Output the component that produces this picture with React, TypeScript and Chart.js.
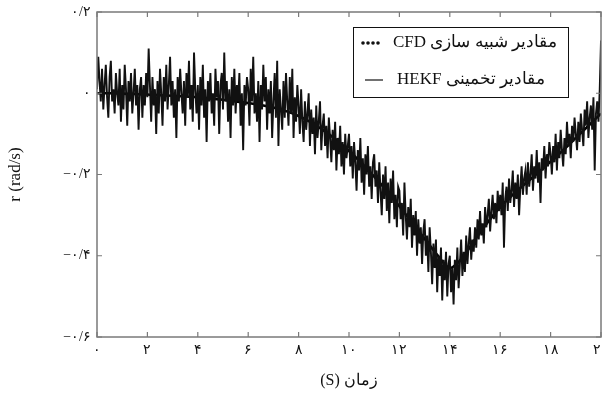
import React, { useEffect, useRef } from "react";
import { Chart, registerables } from "chart.js";

Chart.register(...registerables);

// Sampling step of the CFD record (s)
const CFD_DT = 0.05;

// CFD simulation values r (rad/s), one per 0.05 s from 0 to 20 s (one row per second)
const CFD_VALUES = [
  0.01, 0.09, 0.03, -0.02, 0.06, -0.04, 0.02, 0.07, -0.01, -0.06, 0.04, 0.08, -0.02, 0.01, -0.05, 0.05, 0.00, -0.03, 0.06, -0.07,
  0.02, -0.04, 0.07, 0.01, -0.08, 0.03, -0.02, 0.05, -0.05, 0.00, 0.06, -0.03, 0.02, -0.09, 0.01, 0.04, -0.06, 0.02, -0.03, 0.05,
  -0.01, 0.11, 0.02, -0.07, 0.04, -0.03, 0.01, -0.10, 0.03, -0.05, 0.06, 0.00, -0.08, 0.04, -0.02, 0.07, -0.04, 0.02, 0.09, -0.03,
  0.03, -0.06, 0.01, -0.11, 0.04, -0.02, 0.06, 0.00, -0.05, 0.03, -0.08, 0.05, -0.01, 0.08, -0.04, 0.02, -0.07, 0.10, 0.01, -0.05,
  0.02, -0.09, 0.04, -0.03, 0.07, -0.06, 0.01, -0.12, 0.03, -0.02, 0.05, -0.05, 0.00, -0.08, 0.06, -0.01, 0.03, -0.10, 0.02, 0.05,
  -0.04, 0.10, -0.02, 0.03, -0.07, 0.01, -0.11, 0.04, -0.03, 0.06, -0.05, 0.02, -0.02, 0.05, -0.08, 0.00, -0.14, 0.02, -0.03, 0.04,
  0.01, -0.08, 0.06, -0.02, 0.09, -0.05, 0.00, -0.07, 0.03, -0.12, 0.02, -0.04, 0.07, -0.02, 0.04, -0.09, 0.01, -0.05, 0.03, -0.11,
  -0.02, 0.05, -0.06, 0.08, -0.13, 0.01, -0.04, -0.09, 0.03, -0.06, 0.05, -0.02, -0.08, 0.04, -0.05, 0.06, -0.11, -0.01, -0.07, 0.02,
  -0.03, -0.10, 0.01, -0.07, -0.12, -0.02, -0.09, -0.05, 0.00, -0.13, -0.04, -0.10, -0.06, -0.15, -0.03, -0.11, -0.07, -0.02, -0.14, -0.08,
  -0.05, -0.13, -0.08, -0.16, -0.06, -0.11, -0.17, -0.09, -0.14, -0.07, -0.19, -0.11, -0.15, -0.08, -0.18, -0.12, -0.20, -0.10, -0.16, -0.13,
  -0.10, -0.18, -0.13, -0.21, -0.12, -0.17, -0.24, -0.14, -0.19, -0.11, -0.22, -0.16, -0.25, -0.15, -0.20, -0.13, -0.23, -0.18, -0.26, -0.17,
  -0.15, -0.23, -0.19, -0.27, -0.17, -0.24, -0.30, -0.20, -0.26, -0.18, -0.29, -0.22, -0.32, -0.21, -0.27, -0.19, -0.31, -0.25, -0.33, -0.23,
  -0.24, -0.31, -0.27, -0.35, -0.22, -0.30, -0.36, -0.28, -0.33, -0.26, -0.38, -0.30, -0.35, -0.29, -0.40, -0.31, -0.37, -0.33, -0.42, -0.34,
  -0.31, -0.40, -0.35, -0.44, -0.33, -0.39, -0.47, -0.37, -0.43, -0.36, -0.49, -0.40, -0.45, -0.38, -0.51, -0.41, -0.46, -0.39, -0.50, -0.42,
  -0.40, -0.49, -0.43, -0.52, -0.41, -0.46, -0.38, -0.48, -0.42, -0.36, -0.45, -0.39, -0.44, -0.35, -0.42, -0.37, -0.33, -0.41, -0.36, -0.39,
  -0.33, -0.38, -0.31, -0.36, -0.29, -0.35, -0.32, -0.37, -0.28, -0.33, -0.30, -0.26, -0.34, -0.29, -0.25, -0.31, -0.27, -0.32, -0.24, -0.29,
  -0.25, -0.30, -0.22, -0.38, -0.26, -0.23, -0.29, -0.21, -0.27, -0.24, -0.19, -0.28, -0.22, -0.26, -0.20, -0.30, -0.23, -0.18, -0.25, -0.21,
  -0.19, -0.25, -0.17, -0.23, -0.20, -0.15, -0.24, -0.18, -0.21, -0.14, -0.22, -0.17, -0.27, -0.16, -0.19, -0.13, -0.21, -0.15, -0.18, -0.12,
  -0.15, -0.20, -0.13, -0.17, -0.10, -0.19, -0.12, -0.16, -0.09, -0.14, -0.18, -0.11, -0.15, -0.07, -0.13, -0.10, -0.16, -0.08, -0.12, -0.06,
  -0.10, -0.14, -0.07, -0.12, -0.05, -0.09, -0.13, -0.04, -0.08, -0.02, -0.11, -0.06, -0.03, -0.09, -0.01, -0.19, -0.05, -0.02, -0.07, 0.01,
  0.13,
];

// HEKF estimate
const HEKF_TIMES = [
  0, 0.5, 1, 1.5, 2, 2.5, 3, 3.5, 4, 4.5, 5, 5.5, 6, 6.5, 7, 7.5, 8, 8.5, 9, 9.5,
  10, 10.5, 11, 11.5, 12, 12.5, 13, 13.5, 14, 14.5, 15, 15.5, 16, 16.5, 17, 17.5,
  18, 18.5, 19, 19.5, 20,
];
const HEKF_VALUES = [
  0, 0, -0.001, -0.002, -0.003, -0.005, -0.006, -0.008, -0.01, -0.013, -0.016,
  -0.02, -0.024, -0.029, -0.035, -0.044, -0.056, -0.072, -0.092, -0.115, -0.142,
  -0.172, -0.205, -0.24, -0.278, -0.318, -0.358, -0.398, -0.43, -0.405, -0.36,
  -0.318, -0.28, -0.25, -0.222, -0.196, -0.168, -0.14, -0.11, -0.08, -0.05,
];

const LABEL_CFD = "مقادیر شبیه سازی CFD";
const LABEL_HEKF = "مقادیر تخمینی HEKF";
const X_TITLE = "(S) زمان";
const Y_TITLE = "r (rad/s)";

const X_MIN = 0;
const X_MAX = 20;
const X_STEP = 2;
const Y_MIN = -0.6;
const Y_MAX = 0.2;
const Y_STEP = 0.2;

const FONT = "'Liberation Serif', 'DejaVu Serif', serif";
const FA_DIGITS = "۰۱۲۳۴۵۶۷۸۹";

function toFa(v: number): string {
  const r = Math.round(v * 10) / 10;
  const neg = r < 0;
  let s = Math.abs(r).toString().replace(".", "/");
  s = s.replace(/[0-9]/g, (d) => FA_DIGITS[Number(d)]);
  return (neg ? "−" : "") + s;
}

const framePlugin = {
  id: "frameAndLegend",
  afterDatasetsDraw(chart: any) {
    const { ctx, chartArea, scales } = chart;
    const { left, right, top, bottom } = chartArea;
    const xs = scales.x;
    const ys = scales.y;
    ctx.save();
    ctx.strokeStyle = "#7a7a7a";
    ctx.lineWidth = 1.5;
    ctx.strokeRect(left, top, right - left, bottom - top);
    ctx.lineWidth = 1.2;
    ctx.beginPath();
    xs.ticks.forEach((t: any) => {
      const px = xs.getPixelForValue(t.value);
      ctx.moveTo(px, bottom);
      ctx.lineTo(px, bottom - 5);
      ctx.moveTo(px, top);
      ctx.lineTo(px, top + 5);
    });
    ys.ticks.forEach((t: any) => {
      const py = ys.getPixelForValue(t.value);
      ctx.moveTo(left, py);
      ctx.lineTo(left + 5, py);
      ctx.moveTo(right, py);
      ctx.lineTo(right - 5, py);
    });
    ctx.stroke();

    // legend box
    const bx = right - 248;
    const by = top + 15;
    const bw = 215;
    const bh = 70;
    ctx.fillStyle = "#ffffff";
    ctx.fillRect(bx, by, bw, bh);
    ctx.strokeStyle = "#111";
    ctx.lineWidth = 1;
    ctx.strokeRect(bx + 0.5, by + 0.5, bw, bh);

    const ds = chart.data.datasets;
    const row1 = by + 16;
    const row2 = by + 53;
    ctx.fillStyle = "#111";
    for (let i = 0; i < 4; i++) {
      ctx.beginPath();
      ctx.arc(bx + 10 + i * 5, row1, 1.8, 0, Math.PI * 2);
      ctx.fill();
    }
    ctx.beginPath();
    ctx.moveTo(bx + 12, row2);
    ctx.lineTo(bx + 30, row2);
    ctx.lineWidth = 1.2;
    ctx.stroke();

    ctx.font = `17px ${FONT}`;
    ctx.fillStyle = "#111";
    ctx.textBaseline = "middle";
    ctx.textAlign = "left";
    (ctx as any).direction = "rtl";
    ctx.fillText(ds[0].label, bx + 40, row1);
    ctx.fillText(ds[1].label, bx + 44, row2);
    ctx.restore();
  },
};

export default function App() {
  const ref = useRef<HTMLCanvasElement | null>(null);

  useEffect(() => {
    if (!ref.current) return;
    const cfdPoints = CFD_VALUES.map((v, i) => ({ x: i * CFD_DT, y: v }));
    const hekfPoints = HEKF_TIMES.map((t, i) => ({ x: t, y: HEKF_VALUES[i] }));
    const chart = new Chart(ref.current, {
      type: "line",
      data: {
        datasets: [
          {
            label: LABEL_CFD,
            data: cfdPoints,
            borderColor: "#111",
            borderWidth: 1.9,
            pointRadius: 0,
            tension: 0,
          },
          {
            label: LABEL_HEKF,
            data: hekfPoints,
            borderColor: "#000",
            borderWidth: 2.6,
            pointRadius: 0,
            tension: 0.3,
          },
        ],
      },
      options: {
        animation: false,
        responsive: false,
        devicePixelRatio: 1,
        layout: { padding: { left: 5, top: 12, right: 2, bottom: 8 } },
        plugins: {
          legend: { display: false },
          tooltip: { enabled: false },
        },
        scales: {
          x: {
            type: "linear",
            min: X_MIN,
            max: X_MAX,
            grid: { display: false, drawTicks: false },
            border: { display: false },
            ticks: {
              stepSize: X_STEP,
              autoSkip: false,
              maxRotation: 0,
              padding: 5,
              color: "#111",
              font: { family: FONT, size: 14 },
              callback: (v: any) => toFa(Number(v)),
            },
            title: {
              display: true,
              text: X_TITLE,
              color: "#111",
              padding: 0,
              font: { family: FONT, size: 16 },
            },
            afterFit: (s: any) => {
              s.height = 53;
              s.paddingLeft = 0;
              s.paddingRight = 0;
            },
          },
          y: {
            type: "linear",
            min: Y_MIN,
            max: Y_MAX,
            grid: { display: false, drawTicks: false },
            border: { display: false },
            ticks: {
              stepSize: Y_STEP,
              padding: 6,
              color: "#111",
              font: { family: FONT, size: 14 },
              callback: (v: any) => toFa(Number(v)),
            },
            title: {
              display: true,
              text: Y_TITLE,
              color: "#111",
              padding: 0,
              font: { family: FONT, size: 17 },
            },
            afterFit: (s: any) => {
              s.width = 92;
              s.paddingTop = 0;
              s.paddingBottom = 0;
            },
          },
        },
      },
      plugins: [framePlugin],
    });
    return () => chart.destroy();
  }, []);

  return (
    <div style={{ position: "fixed", left: 0, top: 0, width: 603, height: 398, background: "#fff" }}>
      <canvas ref={ref} width={603} height={398} style={{ display: "block" }} />
    </div>
  );
}
